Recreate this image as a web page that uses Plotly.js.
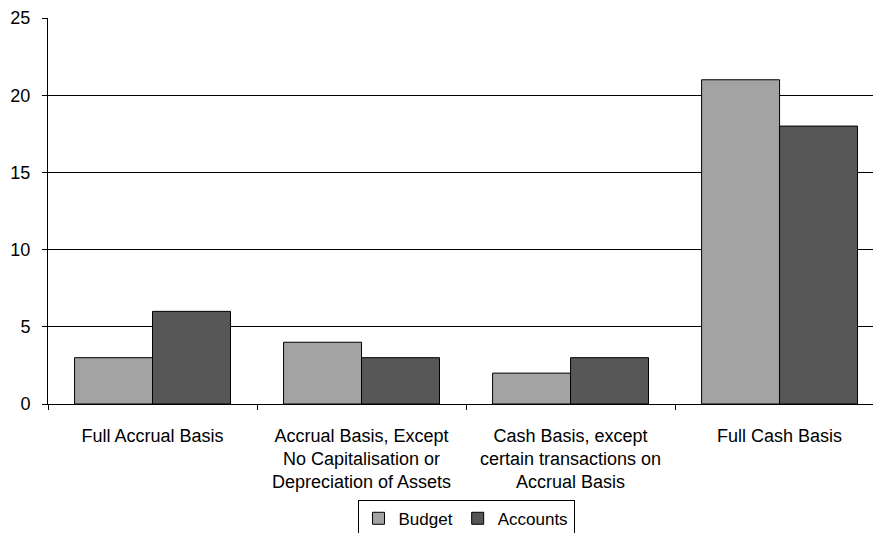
<!DOCTYPE html>
<html>
<head>
<meta charset="utf-8">
<script src="https://cdn.plot.ly/plotly-3.0.1.min.js"></script>
<style>html,body{margin:0;padding:0;background:#fff;}#chart{width:873px;height:533px;}</style>
</head>
<body>
<div id="chart"></div>
<script>
const categories = [
  "Full Accrual Basis",
  "Accrual Basis, Except<br>No Capitalisation or<br>Depreciation of Assets",
  "Cash Basis, except<br>certain transactions on<br>Accrual Basis",
  "Full Cash Basis"
];
const budgetValues = [3, 4, 2, 21];
const accountsValues = [6, 3, 3, 18];
const yTicks = [0, 5, 10, 15, 20, 25];

const font = {family: "'Liberation Sans', Arial, sans-serif", size: 18, color: "#000"};
const legendFont = {family: "'Liberation Sans', Arial, sans-serif", size: 17, color: "#000"};

const traces = [
  {type: "bar", name: "Budget", x: categories, y: budgetValues,
   marker: {color: "#a3a3a3", line: {color: "#000", width: 1}}},
  {type: "bar", name: "Accounts", x: categories, y: accountsValues,
   marker: {color: "#575757", line: {color: "#000", width: 1}}}
];

const layout = {
  width: 873, height: 533,
  margin: {l: 48, r: 0, t: 18, b: 129, pad: 0, autoexpand: false},
  paper_bgcolor: "#fff", plot_bgcolor: "#fff",
  font: font,
  barmode: "group",
  bargap: 0.254,
  bargroupgap: 0,
  showlegend: true,
  legend: {
    orientation: "h", x: 0.5067, xanchor: "center", y: -0.248, yanchor: "top",
    bordercolor: "#000", borderwidth: 1, font: legendFont,
    itemwidth: 30, tracegroupgap: 0
  },
  xaxis: {
    type: "category",
    range: [-0.5, 3.447],
    tickson: "boundaries",
    ticks: "outside", ticklen: 5, tickcolor: "#000", tickwidth: 1,
    showline: true, linecolor: "#000", linewidth: 1,
    showgrid: false, zeroline: false,
    tickfont: font,
    ticklabelstandoff: 15
  },
  yaxis: {
    range: [0, 25],
    tickvals: yTicks,
    ticktext: yTicks.map(String),
    ticks: "outside", ticklen: 5, tickcolor: "#000", tickwidth: 1,
    showline: true, linecolor: "#000", linewidth: 1,
    showgrid: true, gridcolor: "#000", gridwidth: 1,
    zeroline: false,
    tickfont: font,
    ticklabelstandoff: 8
  }
};

Plotly.newPlot("chart", traces, layout, {displayModeBar: false, staticPlot: true});
</script>
</body>
</html>
